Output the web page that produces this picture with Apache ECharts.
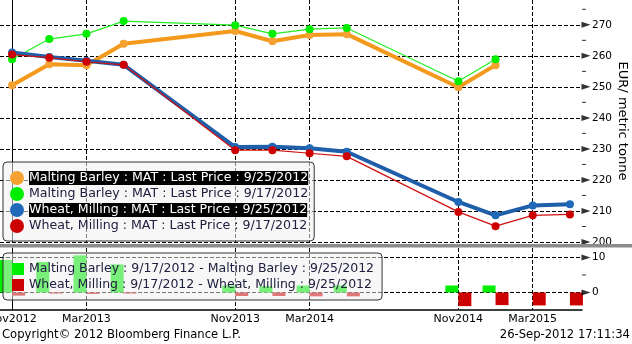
<!DOCTYPE html>
<html><head><meta charset="utf-8">
<script src="https://cdn.jsdelivr.net/npm/echarts@6/dist/echarts.min.js"></script>
<style>html,body{margin:0;padding:0;background:#fff}#c{width:632px;height:344px}</style>
</head><body><div id="c"></div>
<script>
// ---- data ----
const contracts = ["Nov2012","Jan2013","Mar2013","May2013","Nov2013","Jan2014","Mar2014","May2014","Nov2014","Jan2015","Mar2015","May2015"];
const barley0925 = [250.5,257.3,257.0,263.9,268.0,264.7,266.7,267.0,249.9,257.0,null,null];
const barley0917 = [258.9,265.4,267.1,271.2,269.9,267.1,268.6,269.0,251.8,258.9,null,null];
const wheat0925  = [261.1,259.6,258.4,257.1,230.6,230.7,230.2,229.1,212.9,208.6,211.8,212.2];
const wheat0917  = [260.4,259.4,258.1,257.1,229.6,229.6,228.6,227.6,209.7,205.1,208.6,208.9];
const barleyDiff = [9.3,8.7,10.6,8.0,2.0,1.8,2.0,2.0,2.0,2.0,null,null];
const wheatDiff  = [-0.9,-0.3,-0.4,-0.3,-1.0,-1.0,-1.1,-1.1,-3.9,-3.6,-3.7,-3.7];
const xTickLabels = ["Nov2012","Mar2013","Nov2013","Mar2014","Nov2014","Mar2015"];
const topTicks = [200,210,220,230,240,250,260,270];
const topMinor = [205,215,225,235,245,255,265,275];
const bottomTicks = [0,10];
const bottomMinor = [5];
const names = [
  "Malting Barley : MAT : Last Price : 9/25/2012",
  "Malting Barley : MAT : Last Price : 9/17/2012",
  "Wheat, Milling : MAT : Last Price : 9/25/2012",
  "Wheat, Milling : MAT : Last Price : 9/17/2012"
];
const barNames = [
  "Malting Barley : 9/17/2012 - Malting Barley : 9/25/2012",
  "Wheat, Milling : 9/17/2012 - Wheat, Milling : 9/25/2012"
];

// ---- helpers ----
const MON = {Jan:0,Feb:1,Mar:2,Apr:3,May:4,Jun:5,Jul:6,Aug:7,Sep:8,Oct:9,Nov:10,Dec:11};
const base = monthAbs(contracts[0]);
function monthAbs(s){ return (+s.slice(3))*12 + MON[s.slice(0,3)]; }
function pos(s){ return monthAbs(s) - base; }
const tickPos = xTickLabels.map(pos);
function lbl(v){ const i = tickPos.indexOf(Math.round(v)); return i>=0 ? xTickLabels[i] : ''; }
function pts(arr){ return contracts.map((c,i)=>[pos(c), arr[i]]); }

const xMin = -0.65, xMax = 30.65;
const FONT = 'DejaVu Sans';
const dash = {color:'#000', type:'dashed', width:1};
const triPath = 'path://M0,0 L9,3 L0,6 Z';

const chart = echarts.init(document.getElementById('c'), null, {renderer:'canvas'});
chart.setOption({
  animation:false,
  backgroundColor:'#fff',
  textStyle:{fontFamily:FONT},
  grid:[
    {left:0, top:0, width:582, height:242, containLabel:false, outerBoundsMode:'none'},
    {left:0, top:248, width:582, height:62, containLabel:false, outerBoundsMode:'none'}
  ],
  xAxis:[
    {type:'value', gridIndex:0, min:xMin, max:xMax,
     axisLine:{show:false}, axisTick:{show:false, customValues:tickPos},
     axisLabel:{show:false}, splitLine:{show:true, lineStyle:dash}},
    {type:'value', gridIndex:1, min:xMin, max:xMax,
     axisLine:{show:true, onZero:false, lineStyle:{color:'#000', width:1.5}},
     axisTick:{show:false, customValues:tickPos},
     axisLabel:{customValues:tickPos, formatter:lbl, color:'#000', fontFamily:FONT, fontSize:11, margin:4, align:'center'},
     splitLine:{show:true, lineStyle:dash}}
  ],
  yAxis:[
    {type:'value', gridIndex:0, position:'right', min:200, max:278,
     axisLine:{show:true, lineStyle:{color:'#000', width:1}},
     axisTick:{show:false, customValues:topTicks},
     axisLabel:{customValues:topTicks, color:'#000', fontFamily:FONT, fontSize:10.5, margin:10},
     splitLine:{show:true, lineStyle:dash},
     name:'EUR/ metric tonne', nameLocation:'middle', nameRotate:-90, nameGap:40, nameMoveOverlap:false,
     nameTextStyle:{color:'#000', fontFamily:FONT, fontSize:13, verticalAlign:'middle', align:'center'}},
    {type:'value', gridIndex:1, position:'right', min:-5, max:12.7,
     axisLine:{show:true, lineStyle:{color:'#000', width:1}},
     axisTick:{show:false, customValues:bottomTicks},
     axisLabel:{customValues:bottomTicks, color:'#000', fontFamily:FONT, fontSize:10.5, margin:10},
     splitLine:{show:true, lineStyle:dash}}
  ],
  legend:[
    {left:3, top:162, orient:'vertical', itemGap:2, itemWidth:14, itemHeight:14, icon:'circle',
     padding:[9,6,8,7], backgroundColor:'rgba(240,240,240,0.55)', borderColor:'#333', borderWidth:1, borderRadius:4,
     selectedMode:false,
     textStyle:{fontFamily:FONT, fontSize:12.6, color:'#202040', lineHeight:14},
     data:[
       {name:names[0], textStyle:{color:'#fff', backgroundColor:'#000'}},
       {name:names[1]},
       {name:names[2], textStyle:{color:'#fff', backgroundColor:'#000'}},
       {name:names[3]}
     ]},
    {left:3, top:253, orient:'vertical', itemGap:2, itemWidth:12, itemHeight:12, icon:'rect',
     padding:[9,8,8,9], backgroundColor:'rgba(240,240,240,0.5)', borderColor:'#333', borderWidth:1, borderRadius:4,
     selectedMode:false,
     textStyle:{fontFamily:FONT, fontSize:12.5, color:'#202040', lineHeight:14},
     data:barNames}
  ],
  series:[
    {name:names[0], type:'line', xAxisIndex:0, yAxisIndex:0, data:pts(barley0925),
     symbol:'circle', symbolSize:8, lineStyle:{color:'#f39a1c', width:4}, itemStyle:{color:'#f5a233'}, z:2},
    {name:names[1], type:'line', xAxisIndex:0, yAxisIndex:0, data:pts(barley0917),
     symbol:'circle', symbolSize:8, lineStyle:{color:'#22ee22', width:1.2}, itemStyle:{color:'#00ee00'}, z:3},
    {name:names[2], type:'line', xAxisIndex:0, yAxisIndex:0, data:pts(wheat0925),
     symbol:'circle', symbolSize:8, lineStyle:{color:'#1f5ea8', width:4}, itemStyle:{color:'#2068b8'}, z:4},
    {name:names[3], type:'line', xAxisIndex:0, yAxisIndex:0, data:pts(wheat0917),
     symbol:'circle', symbolSize:8, lineStyle:{color:'#d01010', width:1.2}, itemStyle:{color:'#cc0000'}, z:5},
    {name:barNames[0], type:'bar', xAxisIndex:1, yAxisIndex:1, data:pts(barleyDiff),
     barWidth:13, barGap:'0%', itemStyle:{color:'#00ee00'}},
    {name:barNames[1], type:'bar', xAxisIndex:1, yAxisIndex:1, data:pts(wheatDiff),
     barWidth:13, barGap:'0%', itemStyle:{color:'#cc0000'}},
    // axis tick markers
    {type:'scatter', xAxisIndex:0, yAxisIndex:0, data:topTicks.map(v=>[xMax,v]), symbol:triPath,
     symbolSize:[9,6], symbolOffset:[4,0], itemStyle:{color:'#000'}, clip:false, silent:true, z:6},
    {type:'scatter', xAxisIndex:0, yAxisIndex:0, data:topMinor.map(v=>[xMax,v]), symbol:'rect',
     symbolSize:[4,1], symbolOffset:[2,0], itemStyle:{color:'#000'}, clip:false, silent:true, z:6},
    {type:'scatter', xAxisIndex:1, yAxisIndex:1, data:bottomTicks.map(v=>[xMax,v]), symbol:triPath,
     symbolSize:[9,6], symbolOffset:[4,0], itemStyle:{color:'#000'}, clip:false, silent:true, z:6},
    {type:'scatter', xAxisIndex:1, yAxisIndex:1, data:bottomMinor.map(v=>[xMax,v]), symbol:'rect',
     symbolSize:[4,1], symbolOffset:[2,0], itemStyle:{color:'#000'}, clip:false, silent:true, z:6}
  ],
  graphic:[
    {type:'rect', left:0, top:244, shape:{width:632, height:3.5}, style:{fill:'#8c8c8c'}, z:10},
    {type:'text', left:2, top:329, style:{text:'Copyright\u00a9 2012 Bloomberg Finance L.P.', fill:'#000', font:'11.6px "DejaVu Sans"'}},
    {type:'text', right:2, top:329, style:{text:'26-Sep-2012 17:11:34', fill:'#000', font:'11.6px "DejaVu Sans"'}}
  ]
});
</script>
</body></html>
